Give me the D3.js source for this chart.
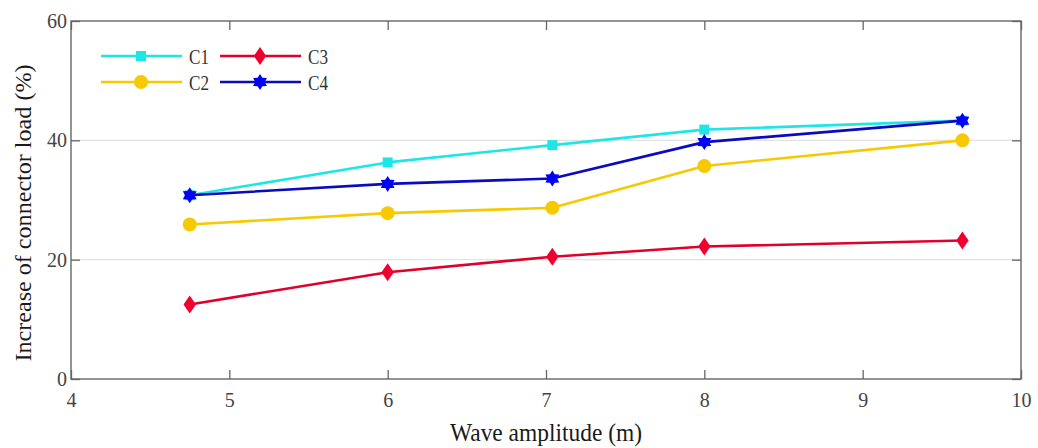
<!DOCTYPE html>
<html>
<head>
<meta charset="utf-8">
<script src="https://cdn.jsdelivr.net/npm/d3@7"></script>
<style>
  html, body { margin: 0; padding: 0; background: #fff; }
  svg { display: block; }
</style>
</head>
<body>
<svg id="chart" width="1038" height="448"></svg>
<script>
// Wave amplitude (m) at which each case was evaluated
const amplitudes = [4.75, 6.0, 7.04, 8.0, 9.63];

// Increase of connector load (%) per case
const c1 = [30.8, 36.3, 39.2, 41.8, 43.3];
const c2 = [25.9, 27.8, 28.7, 35.7, 40.0];
const c3 = [12.5, 17.9, 20.5, 22.2, 23.2];
const c4 = [30.8, 32.7, 33.6, 39.7, 43.3];

const seriesNames = ["C1", "C2", "C3", "C4"];
const xTicks = [4, 5, 6, 7, 8, 9, 10];
const yTicks = [0, 20, 40, 60];

const FONT = "'Liberation Serif', 'Times New Roman', 'DejaVu Serif', serif";

const series = [
  { name: seriesNames[0], values: c1, line: "#1fe6e6", fill: "#1fe6e6", marker: "square" },
  { name: seriesNames[1], values: c2, line: "#f7c900", fill: "#f7c900", marker: "circle" },
  { name: seriesNames[2], values: c3, line: "#e0002c", fill: "#f0002f", marker: "diamond" },
  { name: seriesNames[3], values: c4, line: "#0a0ac0", fill: "#0000f5", marker: "hexagram" }
];

const svg = d3.select("#chart");
const W = 1038, H = 448;
const margin = { left: 71, right: 17, top: 21, bottom: 69 };
const x = d3.scaleLinear().domain([4, 10]).range([margin.left, W - margin.right]);
const y = d3.scaleLinear().domain([0, 60]).range([H - margin.bottom, margin.top]);

const axisColor = "#666";
const tickLen = 9;

// horizontal grid lines
svg.append("g")
  .selectAll("line")
  .data(yTicks.filter(t => t > 0 && t < 60))
  .join("line")
  .attr("x1", x(4)).attr("x2", x(10))
  .attr("y1", d => y(d)).attr("y2", d => y(d))
  .attr("stroke", "#e2e2e2").attr("stroke-width", 1.2);

// bottom and top axes, ticks pointing into the plot
const xAxis = svg.append("g")
  .attr("transform", `translate(0,${y(0)})`)
  .call(d3.axisBottom(x).tickValues(xTicks).tickFormat(d3.format("d")).tickSize(-tickLen).tickPadding(14));
const xTop = svg.append("g")
  .attr("transform", `translate(0,${y(60)})`)
  .call(d3.axisTop(x).tickValues(xTicks).tickFormat("").tickSize(-tickLen));

// left and right axes, ticks pointing into the plot
const yAxis = svg.append("g")
  .attr("transform", `translate(${x(4)},0)`)
  .call(d3.axisLeft(y).tickValues(yTicks).tickFormat(d3.format("d")).tickSize(-tickLen).tickPadding(4));
const yRight = svg.append("g")
  .attr("transform", `translate(${x(10)},0)`)
  .call(d3.axisRight(y).tickValues(yTicks).tickFormat("").tickSize(-tickLen));

[xAxis, xTop, yAxis, yRight].forEach(a => {
  a.attr("font-family", FONT);
  a.select(".domain").remove();
  a.selectAll("line").attr("stroke", axisColor).attr("stroke-width", 1.3);
  a.selectAll("text").attr("fill", "#444").attr("font-size", 20).attr("font-family", FONT);
});

// plot frame
svg.append("rect")
  .attr("x", x(4)).attr("y", y(60))
  .attr("width", x(10) - x(4)).attr("height", y(0) - y(60))
  .attr("fill", "none").attr("stroke", axisColor).attr("stroke-width", 1.4);

// axis titles
svg.append("text")
  .attr("x", (x(4) + x(10)) / 2).attr("y", 441)
  .attr("text-anchor", "middle").attr("font-size", 25).attr("fill", "#1a1a1a")
  .attr("font-family", FONT)
  .attr("textLength", 192).attr("lengthAdjust", "spacingAndGlyphs")
  .text("Wave amplitude (m)");

svg.append("text")
  .attr("transform", `translate(31,${(y(0) + y(60)) / 2 + 13}) rotate(-90)`)
  .attr("text-anchor", "middle").attr("font-size", 24).attr("fill", "#1a1a1a")
  .attr("font-family", FONT)
  .attr("textLength", 297).attr("lengthAdjust", "spacingAndGlyphs")
  .text("Increase of connector load (%)");

// marker shapes
function hexagramPath(r) {
  const pts = [];
  for (let i = 0; i < 12; i++) {
    const a = -Math.PI / 2 + i * Math.PI / 6;
    const rr = i % 2 === 0 ? r : r * 0.6;
    pts.push([rr * Math.cos(a), rr * Math.sin(a)]);
  }
  return "M" + pts.map(p => p.join(",")).join("L") + "Z";
}
function drawMarker(g, kind, color) {
  if (kind === "square") {
    g.append("rect").attr("x", -5).attr("y", -5).attr("width", 10).attr("height", 10).attr("fill", color);
  } else if (kind === "circle") {
    g.append("circle").attr("r", 7).attr("fill", color);
  } else if (kind === "diamond") {
    g.append("path").attr("d", "M0,-9L6.2,0L0,9L-6.2,0Z").attr("fill", color);
  } else {
    g.append("path").attr("d", hexagramPath(8)).attr("fill", color);
  }
}

const line = d3.line().x((d, i) => x(amplitudes[i])).y(d => y(d));

// lines and markers, drawn in series order so C4 sits on top
series.forEach(s => {
  const g = svg.append("g");
  g.append("path")
    .attr("d", line(s.values))
    .attr("fill", "none").attr("stroke", s.line).attr("stroke-width", 2.6)
    .attr("stroke-linejoin", "round");
  s.values.forEach((v, i) => {
    const m = g.append("g").attr("transform", `translate(${x(amplitudes[i])},${y(v)})`);
    drawMarker(m, s.marker, s.fill);
  });
});

// legend, two columns
const legendPos = {
  C1: [101, 56], C3: [220, 56],
  C2: [101, 82], C4: [220, 82]
};
series.forEach(s => {
  const [lx, ly] = legendPos[s.name];
  const g = svg.append("g").attr("transform", `translate(${lx},${ly})`);
  g.append("line").attr("x1", 0).attr("x2", 81).attr("y1", 0).attr("y2", 0)
    .attr("stroke", s.line).attr("stroke-width", 2.6);
  const m = g.append("g").attr("transform", "translate(40,0)");
  drawMarker(m, s.marker, s.fill);
  g.append("text").attr("x", 88).attr("y", 7.5)
    .attr("font-size", 22).attr("fill", "#333").attr("font-family", FONT)
    .attr("textLength", 20).attr("lengthAdjust", "spacingAndGlyphs")
    .text(s.name);
});
</script>
</body>
</html>
